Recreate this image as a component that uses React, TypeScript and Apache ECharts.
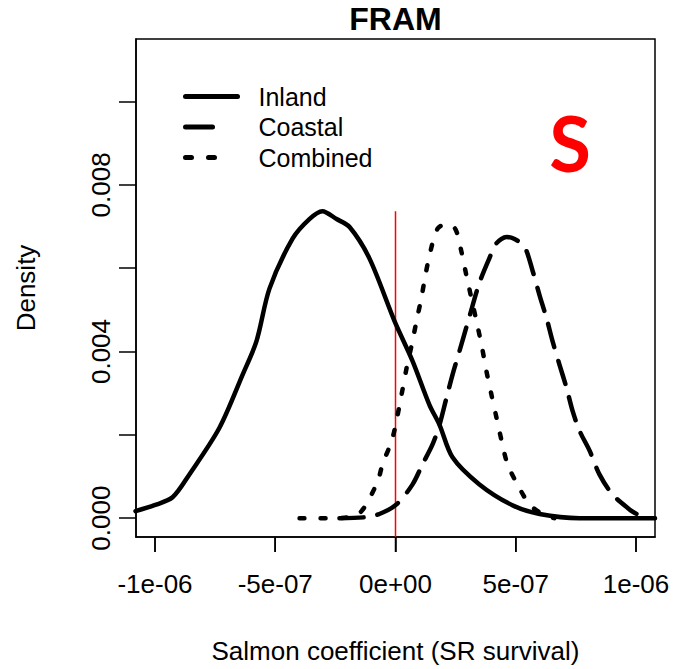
import React, { useEffect, useRef } from "react";
import * as echarts from "echarts";

const inlandX = [-1.081e-6, -1.002e-6, -0.927e-6, -0.857e-6, -0.732e-6, -0.636e-6, -0.578e-6, -0.524e-6, -0.428e-6, -0.358e-6, -0.304e-6, -0.245e-6, -0.191e-6, -0.108e-6, -0.004e-6, 0.071e-6, 0.141e-6, 0.183e-6, 0.237e-6, 0.349e-6, 0.486e-6, 0.599e-6, 0.765e-6, 1.079e-6];
const inlandY = [0.000167, 0.00031, 0.0005, 0.00105, 0.00217, 0.00344, 0.00425, 0.00551, 0.00671, 0.00718, 0.00737, 0.00718, 0.00699, 0.00623, 0.00473, 0.00377, 0.00272, 0.00224, 0.00146, 0.00081, 0.00031, 0.0001, 0.0, 0.0];

const coastalX = [-0.233e-6, -0.129e-6, -0.067e-6, 0.004e-6, 0.071e-6, 0.112e-6, 0.154e-6, 0.183e-6, 0.212e-6, 0.237e-6, 0.266e-6, 0.308e-6, 0.349e-6, 0.391e-6, 0.42e-6, 0.462e-6, 0.495e-6, 0.536e-6, 0.57e-6, 0.599e-6, 0.628e-6, 0.653e-6, 0.682e-6, 0.711e-6, 0.736e-6, 0.765e-6, 0.807e-6, 0.848e-6, 0.902e-6, 0.973e-6, 1.002e-6];
const coastalY = [0.0, 0.00002, 0.0001, 0.00033, 0.00081, 0.00129, 0.00177, 0.00224, 0.00289, 0.00344, 0.00401, 0.00485, 0.00565, 0.00625, 0.0066, 0.00675, 0.0067, 0.00652, 0.00594, 0.00535, 0.0048, 0.00425, 0.00368, 0.00313, 0.00258, 0.0021, 0.00162, 0.00105, 0.00057, 0.00021, 0.0001];

const combinedX = [-0.399e-6, -0.274e-6, -0.162e-6, -0.079e-6, -0.054e-6, -0.012e-6, 0.025e-6, 0.046e-6, 0.067e-6, 0.087e-6, 0.108e-6, 0.125e-6, 0.145e-6, 0.175e-6, 0.212e-6, 0.249e-6, 0.274e-6, 0.295e-6, 0.337e-6, 0.358e-6, 0.378e-6, 0.399e-6, 0.42e-6, 0.441e-6, 0.466e-6, 0.507e-6, 0.557e-6, 0.611e-6, 0.661e-6];
const combinedY = [0.0, 0.0, 0.00007, 0.00081, 0.00129, 0.00193, 0.00296, 0.0036, 0.00415, 0.00472, 0.0053, 0.00585, 0.0064, 0.00695, 0.00706, 0.00694, 0.0064, 0.00582, 0.00472, 0.00415, 0.00353, 0.00296, 0.00241, 0.00186, 0.00129, 0.00081, 0.00033, 0.0001, 0.0];

const refLineX = [0, 0];
const refLineY = [-0.000453, 0.00737];

const xTickValues = [-1e-6, -5e-7, 0, 5e-7, 1e-6];
const xTickLabels = ["-1e-06", "-5e-07", "0e+00", "5e-07", "1e-06"];
const yTickValues = [0, 0.002, 0.004, 0.006, 0.008, 0.01];
const yLabelValues = [0, 0.004, 0.008];
const yLabelTexts = ["0.000", "0.004", "0.008"];

const seriesNames = ["Inland", "Coastal", "Combined"];

const zip = (xs: number[], ys: number[]) => xs.map((x, i) => [x, ys[i]]);

const FONT = "'Liberation Sans', Arial, sans-serif";
const X_MIN = -1.079e-6;
const X_MAX = 1.079e-6;
const Y_MIN = -0.000453;
const Y_MAX = 0.011503;

export default function App() {
  const ref = useRef<HTMLDivElement>(null);
  useEffect(() => {
    if (!ref.current) return;
    const chart = echarts.init(ref.current, undefined, { renderer: "svg" });
    const lw = 4.5;
    const tickStyle = { color: "#000", width: 1.5 };
    chart.setOption({
      animation: false,
      backgroundColor: "#fff",
      title: {
        text: "FRAM",
        left: 395.5,
        textAlign: "center",
        top: 3,
        padding: 0,
        textStyle: { fontFamily: FONT, fontSize: 32, fontWeight: "bold", color: "#000" },
      },
      legend: {
        data: [
          { name: seriesNames[0] },
          { name: seriesNames[1], lineStyle: { type: [27, 40] } },
          { name: seriesNames[2], lineStyle: { type: [6, 17, 6, 40] } },
        ],
        orient: "vertical",
        left: 183,
        top: 84,
        padding: 0,
        itemWidth: 52,
        itemHeight: 26,
        itemGap: 5.5,
        selectedMode: false,
        itemStyle: { color: "transparent", borderWidth: 0, opacity: 0 },
        lineStyle: { width: 5, cap: "round" },
        textStyle: { fontFamily: FONT, fontSize: 25, color: "#000", padding: [0, 0, 0, 16] },
      },
      grid: {
        left: 136,
        top: 39,
        width: 519,
        height: 501,
        show: true,
        borderColor: "#000",
        borderWidth: 1.5,
        backgroundColor: "transparent",
      },
      xAxis: {
        type: "value",
        position: "bottom",
        min: X_MIN,
        max: X_MAX,
        name: "Salmon coefficient (SR survival)",
        nameLocation: "middle",
        nameGap: 101,
        nameTextStyle: { fontFamily: FONT, fontSize: 26, color: "#000" },
        axisLine: { show: true, onZero: false, lineStyle: { color: "#000", width: 1.5 } },
        splitLine: { show: false },
        axisTick: { show: true, length: 15, customValues: xTickValues, lineStyle: tickStyle },
        axisLabel: {
          customValues: xTickValues,
          margin: 34,
          fontFamily: FONT,
          fontSize: 26,
          color: "#000",
          formatter: (v: number) => {
            const i = xTickValues.findIndex((t) => Math.abs(t - v) < 1e-10);
            return i >= 0 ? xTickLabels[i] : "";
          },
        },
      },
      yAxis: {
        type: "value",
        position: "left",
        min: Y_MIN,
        max: Y_MAX,
        name: "Density",
        nameLocation: "middle",
        nameGap: 97,
        nameTextStyle: { fontFamily: FONT, fontSize: 26, color: "#000" },
        axisLine: { show: true, onZero: false, lineStyle: { color: "#000", width: 1.5 } },
        splitLine: { show: false },
        axisTick: { show: true, length: 17, customValues: yTickValues, lineStyle: tickStyle },
        axisLabel: {
          customValues: yLabelValues,
          rotate: 90,
          margin: 22,
          fontFamily: FONT,
          fontSize: 26,
          color: "#000",
          formatter: (v: number) => {
            const i = yLabelValues.findIndex((t) => Math.abs(t - v) < 1e-7);
            return i >= 0 ? yLabelTexts[i] : "";
          },
        },
      },
      graphic: [
        {
          type: "text",
          x: 570,
          y: 142,
          style: {
            text: "S",
            fontFamily: "Lato, 'Open Sans', sans-serif",
            fontWeight: "bold",
            fontSize: 76,
            fill: "#ff0000",
            align: "center",
            verticalAlign: "middle",
          },
        },
      ],
      series: [
        {
          name: "Ref",
          type: "line",
          data: zip(refLineX, refLineY),
          symbol: "none",
          silent: true,
          lineStyle: { color: "#ff0000", width: 1.5 },
          z: 1,
        },
        {
          name: seriesNames[0],
          type: "line",
          data: zip(inlandX, inlandY),
          symbol: "none",
          smooth: 0.3,
          lineStyle: { color: "#000", width: lw, type: "solid", cap: "round", join: "round" },
          itemStyle: { color: "#000" },
          z: 3,
        },
        {
          name: seriesNames[1],
          type: "line",
          data: zip(coastalX, coastalY),
          symbol: "none",
          smooth: 0.3,
          lineStyle: { color: "#000", width: lw, type: [24, 14], cap: "round", join: "round" },
          itemStyle: { color: "#000" },
          z: 3,
        },
        {
          name: seriesNames[2],
          type: "line",
          data: zip(combinedX, combinedY),
          symbol: "none",
          smooth: 0.3,
          lineStyle: { color: "#000", width: lw, type: [5, 16], cap: "round", join: "round" },
          itemStyle: { color: "#000" },
          z: 3,
        },
        {
          name: "xTicks",
          type: "custom",
          silent: true,
          clip: false,
          z: 100,
          data: xTickValues.map((v) => [v, Y_MIN]),
          renderItem: (_params: any, api: any) => {
            const p = api.coord([api.value(0), api.value(1)]);
            return {
              type: "line",
              shape: { x1: p[0], y1: p[1], x2: p[0], y2: p[1] + 15 },
              style: { stroke: "#000", lineWidth: 1.5 },
            };
          },
        },
      ],
    });
    return () => chart.dispose();
  }, []);
  return (
    <div
      ref={ref}
      style={{ position: "fixed", left: 0, top: 0, width: 673, height: 669, background: "#fff" }}
    />
  );
}
